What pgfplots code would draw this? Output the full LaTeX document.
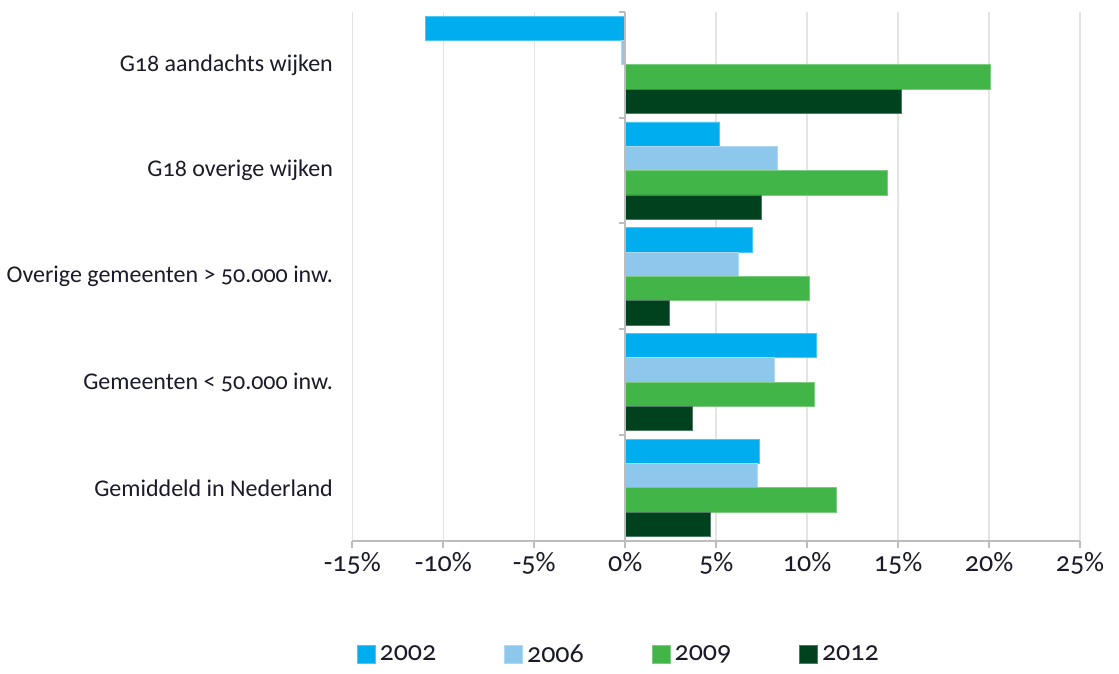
\documentclass[border=0pt]{standalone}
\usepackage{pgfplots}
\pgfplotsset{compat=1.18}
\usepackage{fontspec}
\setmainfont{Carlito}[Numbers=OldStyle]
\definecolor{c02}{HTML}{00AEEF}
\definecolor{c06}{HTML}{8DC8EC}
\definecolor{c09}{HTML}{42B549}
\definecolor{c12}{HTML}{00421E}
\definecolor{gridc}{HTML}{E4E4E4}
\definecolor{axc}{HTML}{BDBDBD}
\definecolor{txt}{HTML}{1A1A2A}
\begin{document}
\begin{tikzpicture}
\begin{axis}[
  scale only axis,
  width=364pt, height=264.5pt,
  xmin=-15, xmax=25,
  ymin=-0.5, ymax=4.5,
  y dir=reverse,
  xbar, bar width=0.23,
  axis line style={draw=none},
  xtick={-15,-10,-5,0,5,10,15,20,25},
  xticklabels={-15\%,-10\%,-5\%,0\%,5\%,10\%,15\%,20\%,25\%},
  ytick={0,1,2,3,4},
  yticklabels={G18 aandachts wijken,G18 overige wijken,Overige gemeenten > 50.000 inw.,Gemeenten < 50.000 inw.,Gemiddeld in Nederland},
  y tick label style={font=\fontsize{12}{14}\selectfont, text=txt},
  x tick label style={font=\fontsize{14}{16}\selectfont, text=txt, yshift=-2.5pt},
  major y tick style={draw=none},
  major x tick style={draw=none},
  yticklabel style={xshift=-2pt},
  xmajorgrids, grid style={gridc, line width=0.8pt},
  legend style={draw=none, at={(rel axis cs:0,-0.2155)}, anchor=west, xshift=-1pt,
    font=\fontsize{14}{16}\selectfont, text=txt,
    /tikz/every even column/.append style={column sep=32pt}},
  legend columns=4,
  legend image code/.code={\fill[#1] (-3pt,-4.5pt) rectangle (6pt,4.5pt);},
  legend cell align=left,
  clip=false,
]
\addplot[fill=c02, draw=c02!70!white, line width=0.4pt, bar shift=-0.345] coordinates {(-11.0,0) (5.2,1) (7.0,2) (10.5,3) (7.4,4)};
\addplot[fill=c06, draw=c06!70!white, line width=0.4pt, bar shift=-0.115] coordinates {(-0.2,0) (8.35,1) (6.2,2) (8.2,3) (7.25,4)};
\addplot[fill=c09, draw=c09!70!white, line width=0.4pt, bar shift=0.115] coordinates {(20.1,0) (14.4,1) (10.1,2) (10.4,3) (11.6,4)};
\addplot[fill=c12, draw=c12!70!white, line width=0.4pt, bar shift=0.345] coordinates {(15.2,0) (7.5,1) (2.4,2) (3.7,3) (4.7,4)};
\legend{2002,2006,2009,2012}
\draw[axc, line width=1pt] (axis cs:0,-0.5) -- (axis cs:0,4.5);
\draw[axc, line width=1pt] (axis cs:-15,4.5) -- (axis cs:25,4.5);
\pgfplotsinvokeforeach{-15,-10,-5,0,5,10,15,20,25}{
  \draw[axc, line width=1pt] (axis cs:#1,4.5) -- ++(0pt,-3.5pt);
}
\pgfplotsinvokeforeach{-0.5,0.5,1.5,2.5,3.5}{
  \draw[axc, line width=1pt] (axis cs:0,#1) -- ++(-3pt,0pt);
}
\coordinate (sw) at (rel axis cs:0,0);
\end{axis}
\path[use as bounding box] ([shift={(-176pt,-62.5pt)}]sw) rectangle ([shift={(383.5pt,270.5pt)}]sw);
\end{tikzpicture}
\end{document}
